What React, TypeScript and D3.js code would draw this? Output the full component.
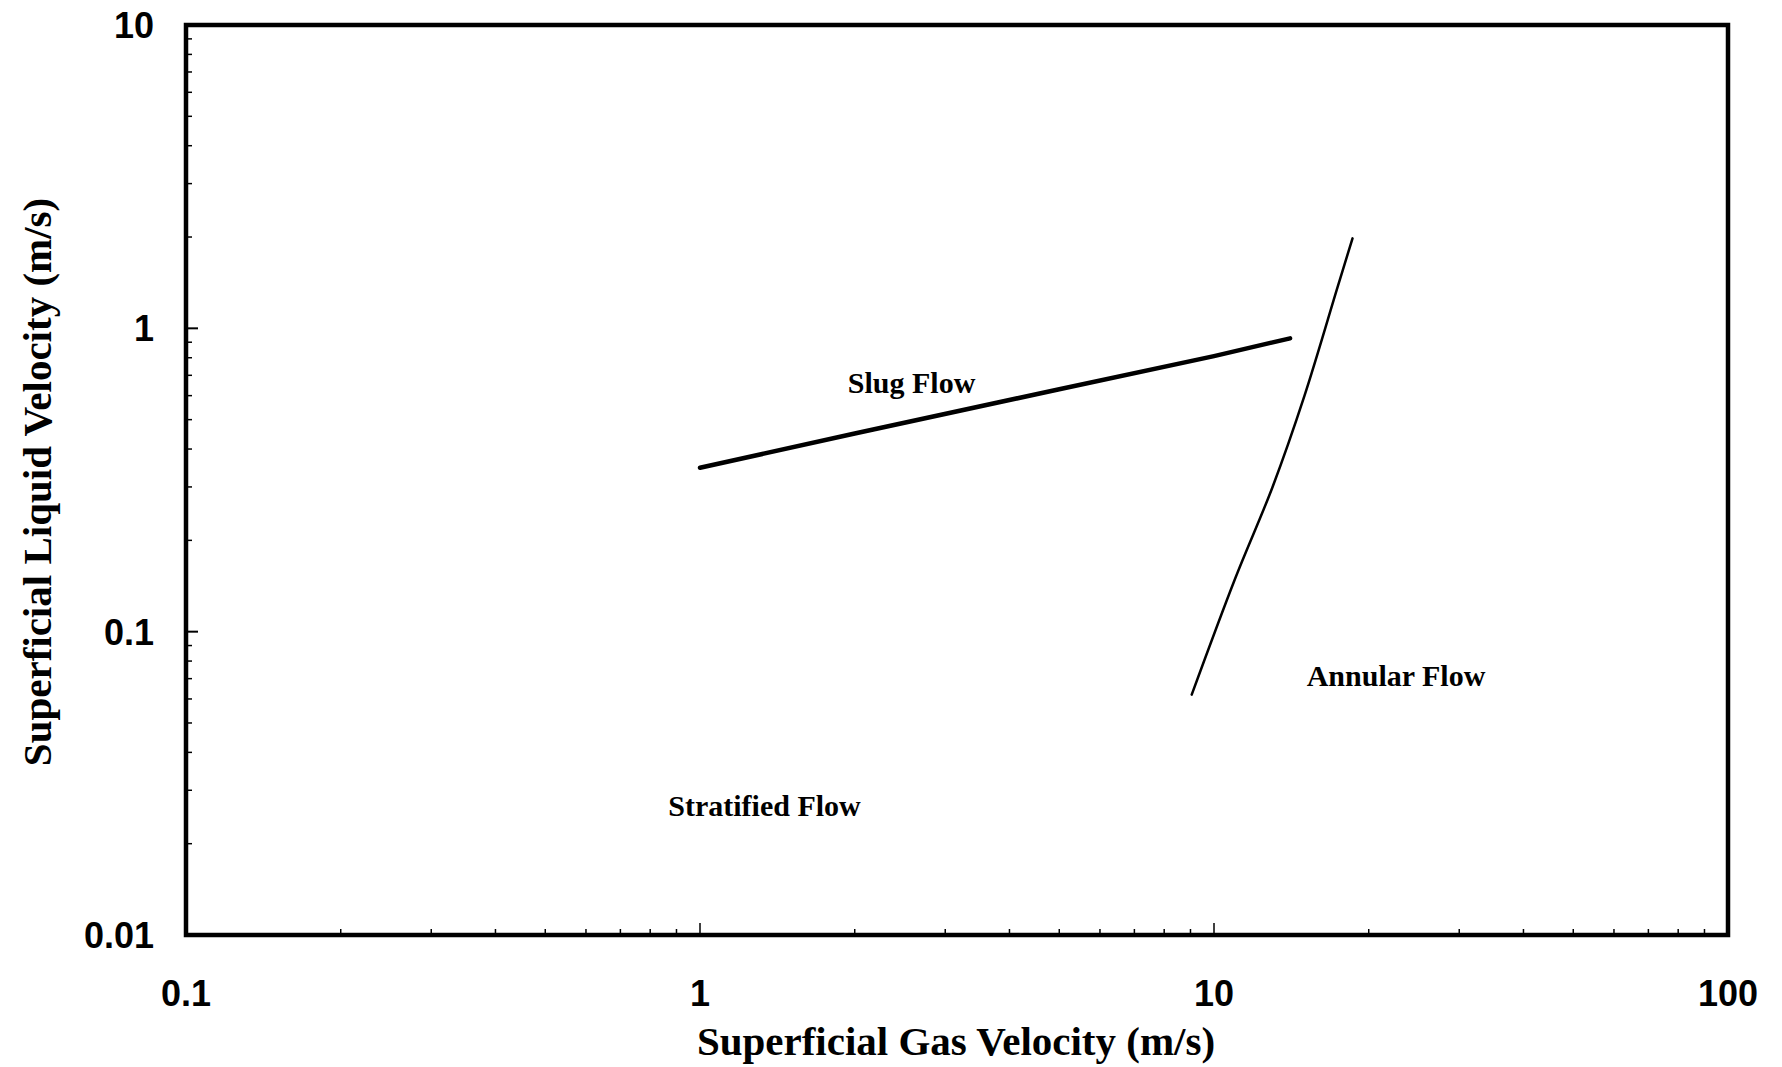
import React from "react";
import * as d3 from "d3";

const slugGas = [1.0, 2.0, 5.0, 10.0, 14.06];
const slugLiq = [0.347, 0.45, 0.63, 0.81, 0.927];

const annGas = [9.05, 11.0, 13.0, 15.0, 17.4, 18.6];
const annLiq = [0.062, 0.15, 0.3, 0.6, 1.37, 1.98];

const xMajor = [0.1, 1, 10, 100];
const yMajor = [0.01, 0.1, 1, 10];
const xTickLabels = ["0.1", "1", "10", "100"];
const yTickLabels = ["0.01", "0.1", "1", "10"];

const regionLabels = ["Slug Flow", "Stratified Flow", "Annular Flow"];
const regionGas = [2.58, 1.335, 22.6];
const regionLiq = [0.645, 0.026, 0.0696];

const W = 1782;
const H = 1067;
const L = 186, R = 1728, T = 25, B = 935;

export default function App() {
  const x = d3.scaleLog().domain([0.1, 100]).range([L, R]);
  const y = d3.scaleLog().domain([0.01, 10]).range([B, T]);

  const minorX: number[] = [];
  for (let d = 0.1; d < 100; d *= 10) for (let k = 2; k <= 9; k++) minorX.push(+(d * k).toPrecision(3));
  const minorY: number[] = [];
  for (let d = 0.01; d < 10; d *= 10) for (let k = 2; k <= 9; k++) minorY.push(+(d * k).toPrecision(3));

  const line = d3
    .line<[number, number]>()
    .x((d) => x(d[0]))
    .y((d) => y(d[1]));
  const curve = d3
    .line<[number, number]>()
    .x((d) => x(d[0]))
    .y((d) => y(d[1]))
    .curve(d3.curveCatmullRom);

  const slug = slugGas.map((g, i) => [g, slugLiq[i]] as [number, number]);
  const ann = annGas.map((g, i) => [g, annLiq[i]] as [number, number]);

  const sans = "'Liberation Sans', Arial, sans-serif";
  const serif = "'Liberation Serif', 'Times New Roman', serif";

  return (
    <svg
      width={W}
      height={H}
      style={{ position: "absolute", left: 0, top: 0, background: "#fff" }}
    >
      <rect x={0} y={0} width={W} height={H} fill="#fff" />
      {minorX.map((v, i) => (
        <line key={"mx" + i} x1={x(v)} x2={x(v)} y1={B} y2={B - 6} stroke="#000" strokeWidth={1.5} />
      ))}
      {minorY.map((v, i) => (
        <line key={"my" + i} x1={L} x2={L + 6} y1={y(v)} y2={y(v)} stroke="#000" strokeWidth={1.5} />
      ))}
      {xMajor.map((v, i) => (
        <line key={"Mx" + i} x1={x(v)} x2={x(v)} y1={B} y2={B - 12} stroke="#000" strokeWidth={1.5} />
      ))}
      {yMajor.map((v, i) => (
        <line key={"My" + i} x1={L} x2={L + 12} y1={y(v)} y2={y(v)} stroke="#000" strokeWidth={2} />
      ))}
      <rect x={L} y={T} width={R - L} height={B - T} fill="none" stroke="#000" strokeWidth={4.5} />

      {xMajor.map((v, i) => (
        <text key={"xl" + i} x={x(v)} y={1006} textAnchor="middle" fontFamily={sans} fontWeight="bold" fontSize={36}>
          {xTickLabels[i]}
        </text>
      ))}
      {yMajor.map((v, i) => (
        <text key={"yl" + i} x={154} y={y(v) + 13} textAnchor="end" fontFamily={sans} fontWeight="bold" fontSize={36}>
          {yTickLabels[i]}
        </text>
      ))}

      <path d={line(slug) || ""} fill="none" stroke="#000" strokeWidth={4.5} strokeLinecap="round" />
      <path d={curve(ann) || ""} fill="none" stroke="#000" strokeWidth={2.5} strokeLinecap="round" />

      {regionLabels.map((t, i) => (
        <text key={"rl" + i} x={x(regionGas[i])} y={y(regionLiq[i])} textAnchor="middle" dominantBaseline="middle" fontFamily={serif} fontWeight="bold" fontSize={30}>
          {t}
        </text>
      ))}

      <text x={956} y={1055} textAnchor="middle" fontFamily={serif} fontWeight="bold" fontSize={41}>
        Superficial Gas Velocity (m/s)
      </text>
      <text
        transform={`translate(51, 482) rotate(-90)`}
        textAnchor="middle"
        fontFamily={serif}
        fontWeight="bold"
        fontSize={41}
      >
        Superficial Liquid Velocity (m/s)
      </text>
    </svg>
  );
}
